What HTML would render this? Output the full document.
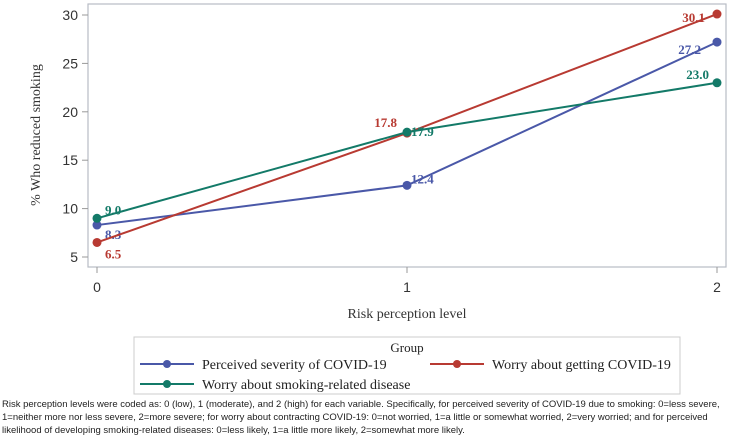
<!DOCTYPE html>
<html><head><meta charset="utf-8"><style>
body{margin:0;background:#fff;width:729px;height:437px;overflow:hidden;font-family:"Liberation Serif",serif}
.fn{position:absolute;left:2px;top:398px;font-family:"Liberation Sans",sans-serif;font-size:9.5px;line-height:13px;color:#222;width:727px;white-space:nowrap}
</style></head><body>
<svg id="chart" width="729" height="437" style="position:absolute;left:0;top:0"></svg>
<div class="fn">Risk perception levels were coded as: 0 (low), 1 (moderate), and 2 (high) for each variable. Specifically, for perceived severity of COVID-19 due to smoking: 0=less severe,<br>1=neither more nor less severe, 2=more severe; for worry about contracting COVID-19: 0=not worried, 1=a little or somewhat worried, 2=very worried; and for perceived<br>likelihood of developing smoking-related diseases: 0=less likely, 1=a little more likely, 2=somewhat more likely.</div>
<script>
const categories=[0,1,2];
const severity=[8.3,12.4,27.2];
const worryCovid=[6.5,17.8,30.1];
const worrySmoking=[9.0,17.9,23.0];
const yTicks=[5,10,15,20,25,30];
const seriesNames=["Perceived severity of COVID-19","Worry about getting COVID-19","Worry about smoking-related disease"];
const NS="http://www.w3.org/2000/svg";
const svg=document.getElementById('chart');
function mk(t,a,p){const e=document.createElementNS(NS,t);for(const k in a)e.setAttribute(k,a[k]);(p||svg).appendChild(e);return e;}
const X=v=>97+v*310;
const Y=v=>257-(v-5)*9.68;
const frame=mk('rect',{x:88,y:4,width:638,height:263,fill:'none',stroke:'#b8bcc4','stroke-width':1.2});

yTicks.forEach(t=>{
 const l=mk('line',{x1:82,x2:88,y1:Y(t),y2:Y(t),stroke:'#999'});
 
 const tx=mk('text',{x:78,y:Y(t)+5,'text-anchor':'end','font-family':'Liberation Sans,sans-serif','font-size':14,fill:'#333'});tx.textContent=t;
 
});
categories.forEach(c=>{
 const l=mk('line',{x1:X(c),x2:X(c),y1:267,y2:273,stroke:'#999'});
 
 const tx=mk('text',{x:X(c),y:292,'text-anchor':'middle','font-family':'Liberation Sans,sans-serif','font-size':14,fill:'#333'});tx.textContent=c;
 
});
const yt=mk('text',{transform:'translate(40,135) rotate(-90)','text-anchor':'middle','font-size':14,fill:'#333'});yt.textContent='% Who reduced smoking';

const xt=mk('text',{x:407,y:318,'text-anchor':'middle','font-size':14,fill:'#333'});xt.textContent='Risk perception level';

const colors=['#4a58a8','#b83a32','#137a68'];
const data=[severity,worryCovid,worrySmoking];
const offs=[[[8,14,'start'],[4,-2,'start'],[-16,12,'end']],[[8,16,'start'],[-10,-6,'end'],[-12,8,'end']],[[8,-4,'start'],[4,4,'start'],[-8,-4,'end']]];
data.forEach((s,i)=>{
 const g=mk('g',{});
 const pl=mk('polyline',{points:s.map((v,j)=>X(categories[j])+','+Y(v)).join(' '),fill:'none',stroke:colors[i],'stroke-width':2},g);
 
 s.forEach((v,j)=>{
  const c=mk('circle',{cx:X(categories[j]),cy:Y(v),r:4.5,fill:colors[i]},g);
  
  const o=offs[i][j];
  const t=mk('text',{x:X(categories[j])+o[0],y:Y(v)+o[1],'text-anchor':o[2],'font-size':13,'font-weight':'bold',fill:colors[i]},g);t.textContent=v.toFixed(1);
  
 });
});
const lg=mk('g',{});
mk('rect',{x:134,y:337,width:546,height:57,fill:'none',stroke:'#ccc'},lg);
const gt=mk('text',{x:407,y:352,'text-anchor':'middle','font-size':13,fill:'#222'},lg);gt.textContent='Group';
const lp=[[140,364],[430,364],[140,384]];
seriesNames.forEach((n,i)=>{
 const e=mk('g',{},lg);
 const [x,y]=lp[i];
 mk('line',{x1:x,x2:x+54,y1:y,y2:y,stroke:colors[i],'stroke-width':2},e);
 mk('circle',{cx:x+27,cy:y,r:4,fill:colors[i]},e);
 const t=mk('text',{x:x+62,y:y+5,'font-size':14,fill:'#222'},e);t.textContent=n;
});
</script>
</body></html>
